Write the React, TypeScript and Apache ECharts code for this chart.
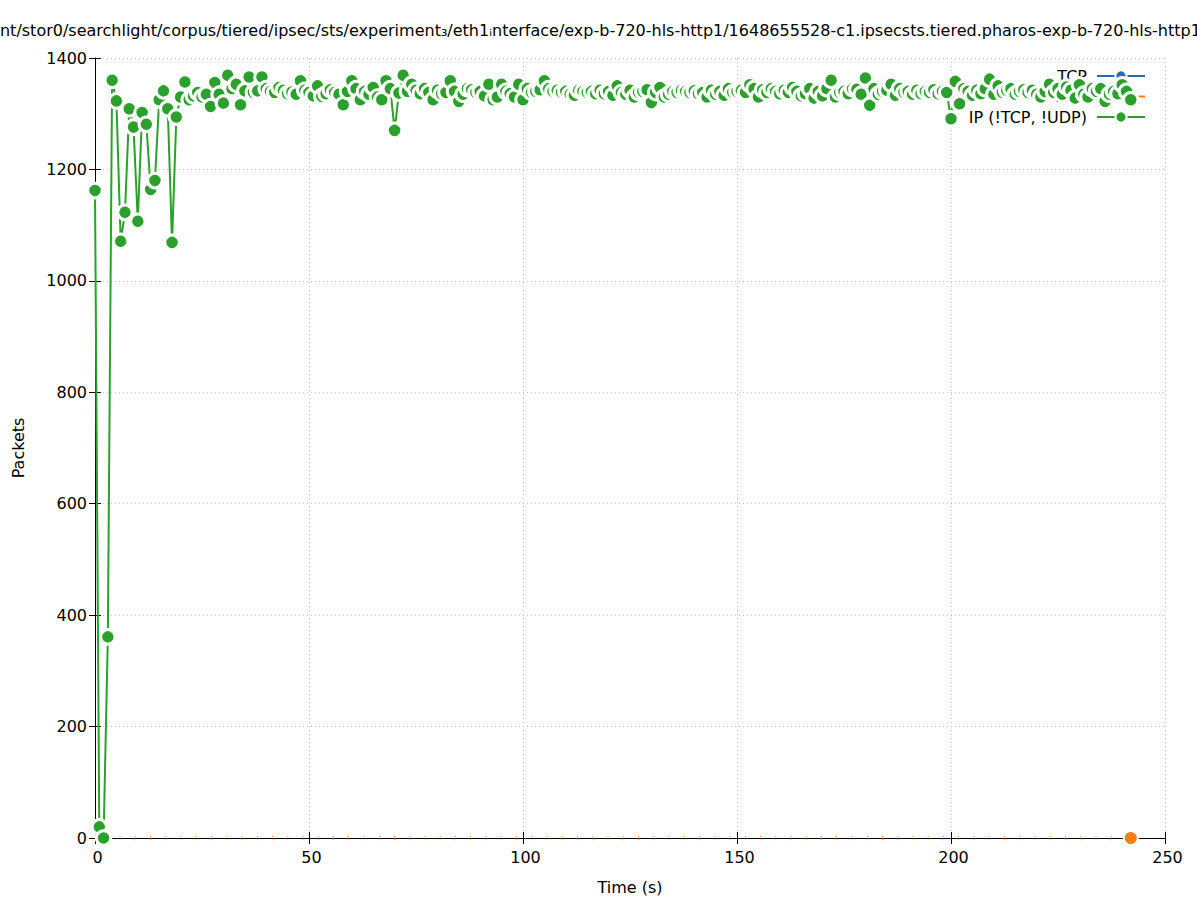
import React, { useEffect, useRef } from "react";
import * as echarts from "echarts";

const TITLE =
  "/mnt/stor0/searchlight/corpus/tiered/ipsec/sts/experiment₃/eth1ᵢnterface/exp-b-720-hls-http1/1648655528-c1.ipsecsts.tiered.pharos-exp-b-720-hls-http1";
const X_NAME = "Time (s)";
const Y_NAME = "Packets";
const SERIES_NAMES = ["TCP", "UDP", "IP (!TCP, !UDP)"];
const X_MIN = 0;
const X_MAX = 250;
const X_STEP = 50;
const Y_MIN = 0;
const Y_MAX = 1400;
const Y_STEP = 200;

// packets per second, one value per second starting at t = 0
const tcpValues = [
  0, 0, 0, 0, 0, 0, 0, 0, 0, 0, 0, 0, 0, 0, 0, 0, 0, 0, 0, 0,
  0, 0, 0, 0, 0, 0, 0, 0, 0, 0, 0, 0, 0, 0, 0, 0, 0, 0, 0, 0,
  0, 0, 0, 0, 0, 0, 0, 0, 0, 0, 0, 0, 0, 0, 0, 0, 0, 0, 0, 0,
  0, 0, 0, 0, 0, 0, 0, 0, 0, 0, 0, 0, 0, 0, 0, 0, 0, 0, 0, 0,
  0, 0, 0, 0, 0, 0, 0, 0, 0, 0, 0, 0, 0, 0, 0, 0, 0, 0, 0, 0,
  0, 0, 0, 0, 0, 0, 0, 0, 0, 0, 0, 0, 0, 0, 0, 0, 0, 0, 0, 0,
  0, 0, 0, 0, 0, 0, 0, 0, 0, 0, 0, 0, 0, 0, 0, 0, 0, 0, 0, 0,
  0, 0, 0, 0, 0, 0, 0, 0, 0, 0, 0, 0, 0, 0, 0, 0, 0, 0, 0, 0,
  0, 0, 0, 0, 0, 0, 0, 0, 0, 0, 0, 0, 0, 0, 0, 0, 0, 0, 0, 0,
  0, 0, 0, 0, 0, 0, 0, 0, 0, 0, 0, 0, 0, 0, 0, 0, 0, 0, 0, 0,
  0, 0, 0, 0, 0, 0, 0, 0, 0, 0, 0, 0, 0, 0, 0, 0, 0, 0, 0, 0,
  0, 0, 0, 0, 0, 0, 0, 0, 0, 0, 0, 0, 0, 0, 0, 0, 0, 0, 0, 0,
  0, 0, 0,
];

const udpValues = [
  0, 0, 0, 0, 0, 0, 0, 0, 0, 0, 0, 0, 0, 0, 0, 0, 0, 0, 0, 0,
  0, 0, 0, 0, 0, 0, 0, 0, 0, 0, 0, 0, 0, 0, 0, 0, 0, 0, 0, 0,
  0, 0, 0, 0, 0, 0, 0, 0, 0, 0, 0, 0, 0, 0, 0, 0, 0, 0, 0, 0,
  0, 0, 0, 0, 0, 0, 0, 0, 0, 0, 0, 0, 0, 0, 0, 0, 0, 0, 0, 0,
  0, 0, 0, 0, 0, 0, 0, 0, 0, 0, 0, 0, 0, 0, 0, 0, 0, 0, 0, 0,
  0, 0, 0, 0, 0, 0, 0, 0, 0, 0, 0, 0, 0, 0, 0, 0, 0, 0, 0, 0,
  0, 0, 0, 0, 0, 0, 0, 0, 0, 0, 0, 0, 0, 0, 0, 0, 0, 0, 0, 0,
  0, 0, 0, 0, 0, 0, 0, 0, 0, 0, 0, 0, 0, 0, 0, 0, 0, 0, 0, 0,
  0, 0, 0, 0, 0, 0, 0, 0, 0, 0, 0, 0, 0, 0, 0, 0, 0, 0, 0, 0,
  0, 0, 0, 0, 0, 0, 0, 0, 0, 0, 0, 0, 0, 0, 0, 0, 0, 0, 0, 0,
  0, 0, 0, 0, 0, 0, 0, 0, 0, 0, 0, 0, 0, 0, 0, 0, 0, 0, 0, 0,
  0, 0, 0, 0, 0, 0, 0, 0, 0, 0, 0, 0, 0, 0, 0, 0, 0, 0, 0, 0,
  0, 0, 0,
];

const ipValues = [
  1162, 20, 0, 361, 1360, 1323, 1071, 1123, 1309, 1276,
  1107, 1302, 1281, 1164, 1180, 1325, 1341, 1309, 1069, 1294,
  1330, 1357, 1325, 1332, 1338, 1330, 1335, 1313, 1356, 1335,
  1319, 1369, 1345, 1353, 1316, 1341, 1366, 1338, 1341, 1366,
  1345, 1340, 1338, 1347, 1342, 1336, 1339, 1335, 1359, 1342,
  1338, 1332, 1350, 1331, 1336, 1343, 1338, 1335, 1316, 1340,
  1359, 1345, 1325, 1340, 1335, 1347, 1330, 1325, 1359, 1345,
  1270, 1337, 1369, 1340, 1353, 1342, 1336, 1345, 1338, 1325,
  1342, 1336, 1338, 1359, 1340, 1322, 1335, 1345, 1343, 1338,
  1340, 1332, 1353, 1325, 1330, 1353, 1340, 1336, 1330, 1353,
  1325, 1345, 1338, 1340, 1343, 1359, 1345, 1340, 1342, 1338,
  1340, 1335, 1333, 1342, 1340, 1338, 1340, 1336, 1342, 1336,
  1340, 1333, 1350, 1338, 1335, 1342, 1330, 1338, 1340, 1343,
  1320, 1338, 1347, 1330, 1335, 1340, 1338, 1342, 1340, 1338,
  1341, 1336, 1338, 1330, 1342, 1335, 1340, 1333, 1345, 1338,
  1340, 1342, 1338, 1352, 1345, 1330, 1343, 1338, 1345, 1340,
  1336, 1342, 1338, 1347, 1340, 1332, 1336, 1345, 1328, 1340,
  1332, 1345, 1360, 1330, 1338, 1340, 1336, 1345, 1344, 1335,
  1364, 1315, 1345, 1335, 1340, 1342, 1353, 1333, 1345, 1338,
  1340, 1335, 1342, 1336, 1340, 1338, 1343, 1336, 1340, 1338,
  1291, 1358, 1318, 1345, 1340, 1333, 1342, 1336, 1345, 1362,
  1335, 1350, 1338, 1342, 1345, 1335, 1340, 1343, 1338, 1342,
  1335, 1330, 1340, 1353, 1338, 1345, 1335, 1348, 1342, 1328,
  1352, 1335, 1330, 1345, 1340, 1345, 1322, 1335, 1340, 1336,
  1352, 1340, 1325,
];

const COLORS = ["#1f6fb4", "#ff7f0e", "#2ca02c"];
const FONT = "DejaVu Sans";
const FS = 16;

export default function App() {
  const ref = useRef<HTMLDivElement>(null);

  useEffect(() => {
    if (!ref.current) return;
    const chart = echarts.init(ref.current, undefined, { renderer: "svg" });

    const toPairs = (vals: number[]) => vals.map((v, i) => [i, v]);
    const lastIdx = udpValues.length - 1;
    const plain = (v: number) => String(v);

    const tickAxisCommon = {
      type: "value",
      axisTick: { show: true, inside: true, length: 6, lineStyle: { color: "#000", width: 1 } },
    };

    const option: any = {
      animation: false,
      backgroundColor: "#fff",
      textStyle: { fontFamily: FONT },
      grid: { left: 95, right: 32, top: 58, bottom: 62, containLabel: false },
      graphic: [
        {
          type: "text",
          x: -21,
          y: 30,
          silent: true,
          style: {
            text: TITLE,
            fontFamily: FONT,
            fontSize: FS,
            fill: "#000",
            textAlign: "left",
            textVerticalAlign: "middle",
          },
        },
      ],
      legend: {
        orient: "vertical",
        right: 46,
        top: 63,
        align: "right",
        itemWidth: 48,
        itemHeight: 14,
        itemGap: 4.5,
        z: 1,
        selectedMode: false,
        textStyle: { fontFamily: FONT, fontSize: FS, color: "#000", padding: [0, 5, 0, 0] },
        data: SERIES_NAMES.map((name, i) => ({
          name,
          lineStyle: { color: COLORS[i], width: 2, opacity: 1, type: "solid" },
          itemStyle: { color: COLORS[i], borderColor: "#fff", borderWidth: 2, opacity: 1 },
        })),
      },
      xAxis: [
        {
          ...tickAxisCommon,
          min: X_MIN,
          max: X_MAX,
          interval: X_STEP,
          position: "bottom",
          axisLine: { show: true, onZero: false, lineStyle: { color: "#000", width: 1 } },
          axisLabel: {
            show: true,
            color: "#000",
            fontSize: FS,
            fontFamily: FONT,
            margin: 11,
            padding: [0, 0, 0, 5],
            formatter: plain,
          },
          splitLine: { show: true, lineStyle: { color: "#c4c4c4", width: 1, type: [1, 3] } },
          name: X_NAME,
          nameLocation: "middle",
          nameGap: 41,
          nameTextStyle: { color: "#000", fontSize: FS, fontFamily: FONT },
        },
        {
          ...tickAxisCommon,
          min: X_MIN,
          max: X_MAX,
          interval: X_STEP,
          position: "top",
          axisLine: { show: false },
          axisLabel: { show: false },
          splitLine: { show: false },
        },
      ],
      yAxis: [
        {
          ...tickAxisCommon,
          min: Y_MIN,
          max: Y_MAX,
          interval: Y_STEP,
          position: "left",
          axisLine: { show: true, onZero: false, lineStyle: { color: "#000", width: 1 } },
          axisLabel: { show: true, color: "#000", fontSize: FS, fontFamily: FONT, margin: 8, formatter: plain },
          splitLine: { show: true, lineStyle: { color: "#c4c4c4", width: 1, type: [1, 3] } },
          name: Y_NAME,
          nameLocation: "middle",
          nameGap: 69,
          nameTextStyle: { color: "#000", fontSize: FS, fontFamily: FONT },
        },
        {
          ...tickAxisCommon,
          min: Y_MIN,
          max: Y_MAX,
          interval: Y_STEP,
          position: "right",
          axisLine: { show: false },
          axisLabel: { show: false },
          splitLine: { show: false },
        },
      ],
      series: [
        {
          name: SERIES_NAMES[0],
          type: "line",
          xAxisIndex: 0,
          yAxisIndex: 0,
          data: toPairs(tcpValues),
          symbol: "circle",
          symbolSize: 0,
          showSymbol: false,
          lineStyle: { color: COLORS[0], width: 2, opacity: 0 },
          itemStyle: { color: COLORS[0] },
          silent: true,
          z: 2,
        },
        {
          name: SERIES_NAMES[1],
          type: "line",
          xAxisIndex: 0,
          yAxisIndex: 0,
          data: udpValues.map((v, i) =>
            i === lastIdx ? { value: [i, v], symbolSize: 14 } : { value: [i, v], symbolSize: 0 }
          ),
          symbol: "circle",
          showAllSymbol: true,
          lineStyle: { color: COLORS[1], width: 5, opacity: 0.55, type: [1, 14.25], dashOffset: 5.5 },
          itemStyle: { color: COLORS[1], borderColor: "#fff", borderWidth: 2 },
          silent: true,
          z: 2,
        },
        {
          name: SERIES_NAMES[2],
          type: "line",
          xAxisIndex: 0,
          yAxisIndex: 0,
          data: toPairs(ipValues),
          symbol: "circle",
          symbolSize: 14.5,
          showAllSymbol: true,
          lineStyle: { color: COLORS[2], width: 2 },
          itemStyle: { color: COLORS[2], borderColor: "#fff", borderWidth: 3 },
          silent: true,
          z: 3,
        },
      ],
    };

    chart.setOption(option);
    return () => chart.dispose();
  }, []);

  return (
    <div
      ref={ref}
      style={{ position: "fixed", left: 0, top: 0, width: 1197, height: 900, background: "#fff" }}
    />
  );
}
